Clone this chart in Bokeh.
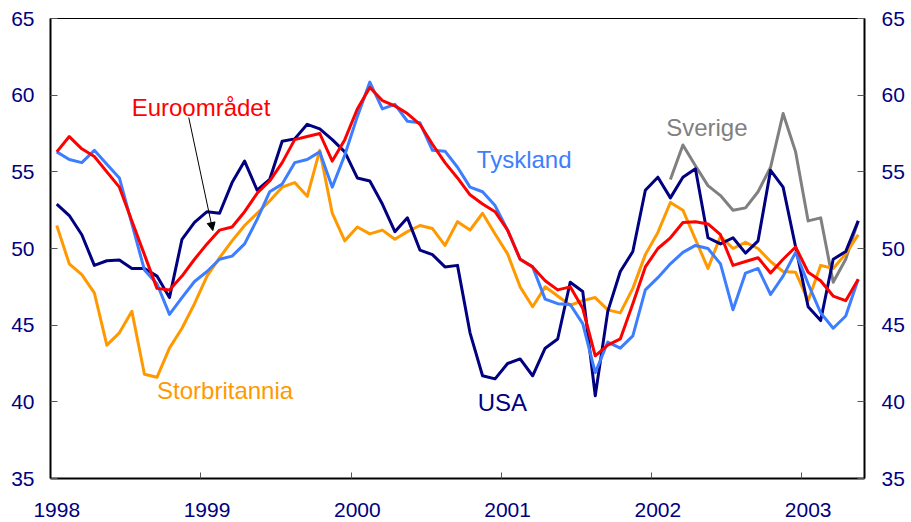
from bokeh.plotting import figure
from bokeh.models import LinearAxis, FixedTicker, Range1d, Arrow, NormalHead, ColumnDataSource, CustomJSTickFormatter
from bokeh.core.properties import value
from bokeh.embed import file_html
from bokeh.resources import INLINE

# ---------------- data (monthly, Jan 1998 - May 2003) ----------------
start_year = 1998
years = [1998, 1999, 2000, 2001, 2002, 2003]
year_labels = ["1998", "1999", "2000", "2001", "2002", "2003"]
y_ticks = [35, 40, 45, 50, 55, 60, 65]

euroomradet = [56.3, 57.3, 56.5, 56.0, 55.0, 54.0, 51.8, 49.6, 47.4, 47.3, 48.2, 49.3,
               50.3, 51.2, 51.4, 52.4, 53.6, 54.4, 55.6, 57.1, 57.3, 57.5, 55.7, 57.1,
               59.1, 60.5, 59.65, 59.3, 58.8, 58.1, 56.8, 55.6, 54.6, 53.5, 52.9, 52.4,
               51.2, 49.3, 48.8, 47.9, 47.3, 47.5, 46.1, 43.0, 43.7, 44.1, 46.4, 48.8,
               50.0, 50.7, 51.7, 51.75, 51.6, 50.9, 48.9, 49.15, 49.4, 48.4, 49.3, 50.1,
               48.45, 47.9, 46.9, 46.6, 48.0]

tyskland = [56.3, 55.8, 55.6, 56.4, 55.5, 54.6, 51.6, 48.6, 47.7, 45.7, 46.8, 47.85,
            48.5, 49.3, 49.5, 50.3, 51.9, 53.7, 54.2, 55.6, 55.8, 56.3, 54.0, 56.1,
            58.6, 60.85, 59.1, 59.4, 58.3, 58.2, 56.4, 56.35, 55.3, 54.0, 53.7, 52.8,
            51.2, 49.3, 48.8, 46.7, 46.4, 46.35, 45.1, 41.9, 43.9, 43.5, 44.3, 47.3,
            48.1, 49.0, 49.75, 50.2, 50.0, 49.0, 46.0, 48.4, 48.7, 47.0, 48.2, 49.75,
            47.7, 45.8, 44.8, 45.6, 48.0]

usa = [52.9, 52.15, 50.9, 48.9, 49.2, 49.25, 48.7, 48.7, 48.2, 46.8, 50.6, 51.7,
       52.4, 52.3, 54.3, 55.7, 53.8, 54.5, 57.0, 57.15, 58.1, 57.8, 57.1, 56.3,
       54.6, 54.4, 52.9, 51.1, 52.0, 49.9, 49.6, 48.8, 48.9, 44.5, 41.7, 41.5,
       42.5, 42.8, 41.7, 43.5, 44.1, 47.8, 47.2, 40.4, 45.9, 48.5, 49.8, 53.8,
       54.65, 53.3, 54.65, 55.2, 50.7, 50.3, 50.7, 49.7, 50.5, 55.1, 54.0, 50.1,
       46.2, 45.3, 49.3, 49.8, 51.8]

storbritannia = [51.5, 49.0, 48.3, 47.1, 43.7, 44.5, 45.9, 41.8, 41.6, 43.5, 44.8, 46.4,
                 48.2, 49.4, 50.5, 51.5, 52.3, 53.1, 54.0, 54.3, 53.4, 56.4, 52.3, 50.5,
                 51.4, 50.95, 51.2, 50.6, 51.1, 51.5, 51.3, 50.2, 51.75, 51.2, 52.3, 50.95,
                 49.65, 47.5, 46.2, 47.5, 46.9, 46.3, 46.6, 46.8, 46.0, 45.8, 47.4, 49.6,
                 51.05, 53.0, 52.5, 50.6, 48.7, 50.8, 50.0, 50.4, 50.0, 49.15, 48.5, 48.45,
                 46.6, 48.9, 48.7, 49.65, 50.9]

sverige_start_month = 49  # Feb 2002
sverige = [54.5, 56.75, 55.4, 54.1, 53.45, 52.5, 52.65, 53.7, 55.3, 58.8, 56.3, 51.8,
           52.0, 47.8, 49.3, 51.8]

series_names = ["Euroområdet", "Tyskland", "Storbritannia", "USA", "Sverige"]

# ---------------- derived x positions (mid-month, decimal years) ----------------
n = len(euroomradet)
x = [start_year + (i + 0.5) / 12 for i in range(n)]
x_sv = [start_year + (sverige_start_month + i + 0.5) / 12 for i in range(len(sverige))]

NAVY = "#000080"
RED = "#FF0000"
BLUE = "#3D7EFF"
ORANGE = "#FF9900"
GRAY = "#808080"
FONT = "Liberation Sans"

p = figure(frame_width=814, frame_height=460, output_backend="svg", toolbar_location=None,
           x_range=Range1d(start_year, start_year + n / 12), y_range=Range1d(35, 65),
           min_border_left=50, min_border_right=47, min_border_top=18, min_border_bottom=44,
           background_fill_color="white", border_fill_color="white")

p.xgrid.visible = False
p.ygrid.visible = False
p.outline_line_color = "black"
p.outline_line_width = 1

# bottom axis: labels centred on January, tick marks at year boundaries
label_pos = [yr + 0.5 / 12 for yr in years]
xa = p.xaxis[0]
xa.ticker = FixedTicker(ticks=label_pos, minor_ticks=years)
xa.formatter = CustomJSTickFormatter(
    args=dict(labels=year_labels, first=years[0]),
    code="return labels[Math.floor(tick) - first];")
xa.axis_line_color = "black"
xa.axis_line_width = 2
xa.minor_tick_in = 6
xa.minor_tick_out = 0
xa.minor_tick_line_color = "#555555"
xa.major_tick_line_color = None
xa.major_tick_in = 0
xa.major_tick_out = 0
xa.major_label_standoff = 24
xa.major_label_text_font = FONT
xa.major_label_text_font_size = "21px"
xa.major_label_text_color = NAVY

# left axis
ya = p.yaxis[0]
ya.ticker = FixedTicker(ticks=y_ticks)
ya.axis_line_color = "black"
ya.axis_line_width = 2
ya.major_tick_in = 7
ya.major_tick_out = 0
ya.major_tick_line_color = "#555555"
ya.minor_tick_line_color = None
ya.major_label_standoff = 16
ya.major_label_text_font = FONT
ya.major_label_text_font_size = "21px"
ya.major_label_text_color = NAVY

# right axis
ra = LinearAxis(ticker=FixedTicker(ticks=y_ticks))
ra.axis_line_color = "black"
ra.axis_line_width = 2
ra.major_tick_in = 7
ra.major_tick_out = 0
ra.major_tick_line_color = "#555555"
ra.minor_tick_line_color = None
ra.major_label_standoff = 17
ra.major_label_text_font = FONT
ra.major_label_text_font_size = "21px"
ra.major_label_text_color = NAVY
p.add_layout(ra, "right")

# lines
lw = 3
p.line(x_sv, sverige, line_color=GRAY, line_width=lw, line_join="round")
p.line(x, storbritannia, line_color=ORANGE, line_width=lw, line_join="round")
p.line(x, usa, line_color=NAVY, line_width=lw, line_join="round")
p.line(x, tyskland, line_color=BLUE, line_width=lw, line_join="round")
p.line(x, euroomradet, line_color=RED, line_width=lw, line_join="round")

# series labels (vertically centred on their cap height)
lab_src = ColumnDataSource(dict(
    x=[1998.540, 2000.837, 1998.709, 2000.843, 2002.097],
    y=[59.19, 55.78, 40.75, 39.95, 57.89],
    text=series_names,
    color=[RED, BLUE, ORANGE, NAVY, GRAY],
))
p.text(x="x", y="y", text="text", text_color="color", source=lab_src,
       text_font=value(FONT), text_font_size=value("24px"),
       text_align="left", text_baseline="middle")

# arrow from the Euro label to its line
p.add_layout(Arrow(end=NormalHead(size=8, fill_color="black", line_color="black", line_width=1),
                   x_start=1998.920, y_start=58.54, x_end=1999.080, y_end=51.17,
                   line_color="black", line_width=1))

open("out.html", "w").write(file_html(p, INLINE))
